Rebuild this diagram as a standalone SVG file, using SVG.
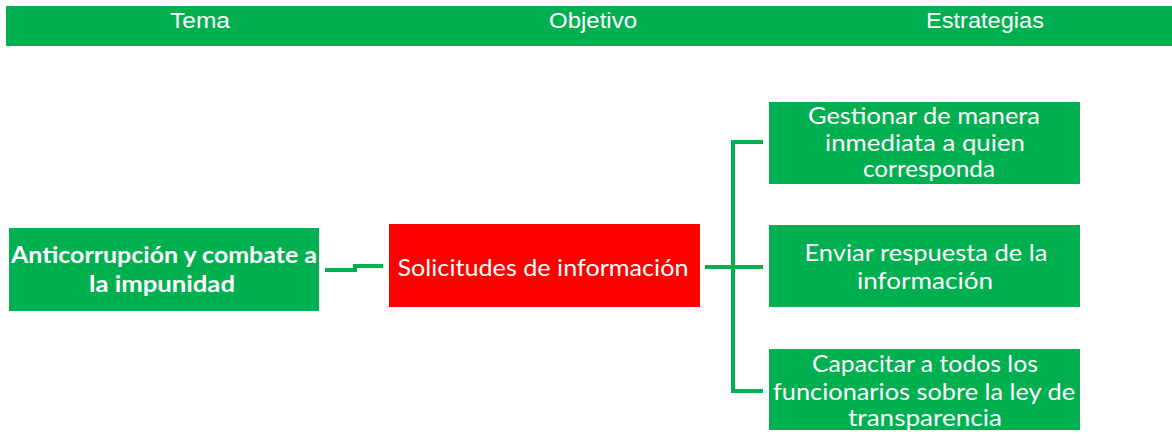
<svg xmlns="http://www.w3.org/2000/svg" width="1172" height="434" viewBox="0 0 1172 434">
<style>
.hdr{font-family:"Liberation Sans",Arial,sans-serif;font-size:22px;fill:#fff;text-anchor:middle}
.t{font-family:Lato,"Open Sans",sans-serif;font-size:23px;fill:#fff;text-anchor:middle;dominant-baseline:central}
.b{font-weight:bold;font-size:23px}
.g{fill:#00b050}
.conn{fill:none;stroke:#00b050;stroke-width:4}
</style>
<rect x="0" y="0" width="1172" height="434" fill="#fff"/>
<g id="header">
<rect class="g" x="6" y="6" width="1166" height="40"/>
<text class="hdr" x="200" y="28" textLength="60" lengthAdjust="spacingAndGlyphs">Tema</text>
<text class="hdr" x="593" y="28" textLength="88" lengthAdjust="spacingAndGlyphs">Objetivo</text>
<text class="hdr" x="985" y="28" textLength="118" lengthAdjust="spacingAndGlyphs">Estrategias</text>
</g>
<g id="connectors">
<path class="conn" d="M325 270 H355 V266 H383"/>
<path class="conn" d="M705 267 H763"/>
<path class="conn" d="M763 142 H733 V391 H763"/>
</g>
<g id="tema">
<rect class="g" x="9" y="228" width="310" height="83"/>
<text class="t b" x="164" y="254" textLength="306" lengthAdjust="spacingAndGlyphs">Anticorrupción y combate a</text>
<text class="t b" x="162" y="283" textLength="146" lengthAdjust="spacingAndGlyphs">la impunidad</text>
</g>
<g id="objetivo">
<rect x="389" y="224" width="311" height="83" fill="#ff0000"/>
<text class="t" x="543" y="266" style="font-size:24px" textLength="291" lengthAdjust="spacingAndGlyphs">Solicitudes de información</text>
</g>
<g id="estrategia1">
<rect class="g" x="769" y="102" width="311" height="82"/>
<text class="t" x="924" y="115" textLength="232" lengthAdjust="spacingAndGlyphs">Gestionar de manera</text>
<text class="t" x="925" y="142" textLength="200" lengthAdjust="spacingAndGlyphs">inmediata a quien</text>
<text class="t" x="929" y="168" textLength="132" lengthAdjust="spacingAndGlyphs">corresponda</text>
</g>
<g id="estrategia2">
<rect class="g" x="769" y="225" width="311" height="82"/>
<text class="t" x="926" y="252" textLength="243" lengthAdjust="spacingAndGlyphs">Enviar respuesta de la</text>
<text class="t" x="925" y="280" textLength="136" lengthAdjust="spacingAndGlyphs">información</text>
</g>
<g id="estrategia3">
<rect class="g" x="769" y="349" width="311" height="81"/>
<text class="t" x="925" y="363" textLength="226" lengthAdjust="spacingAndGlyphs">Capacitar a todos los</text>
<text class="t" x="924" y="391" textLength="302" lengthAdjust="spacingAndGlyphs">funcionarios sobre la ley de</text>
<text class="t" x="925" y="417" textLength="154" lengthAdjust="spacingAndGlyphs">transparencia</text>
</g>
</svg>
